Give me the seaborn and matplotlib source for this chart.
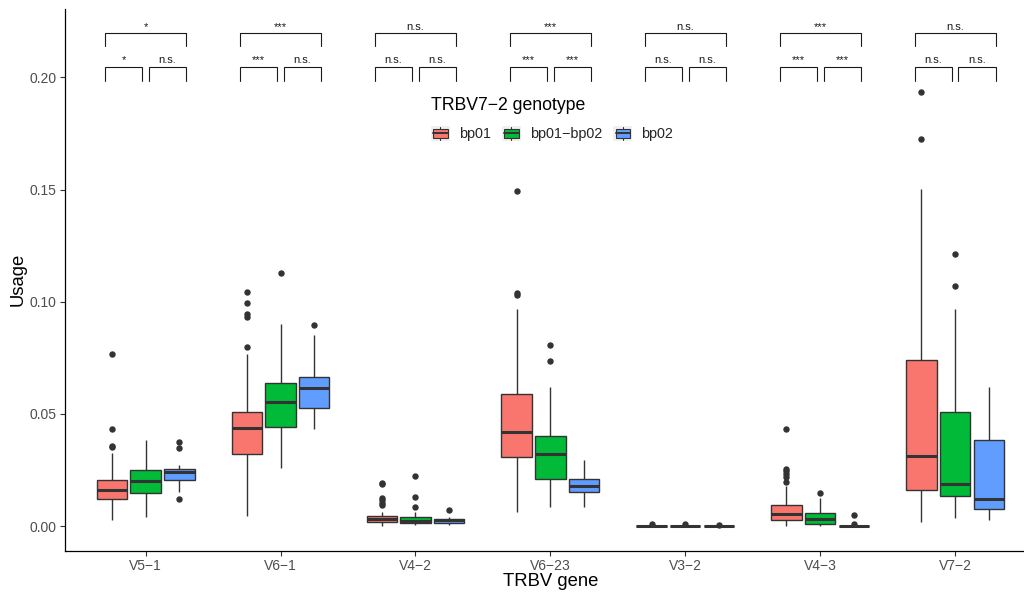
import numpy as np
import pandas as pd
import matplotlib
matplotlib.use("Agg")
import matplotlib.pyplot as plt
import seaborn as sns
from matplotlib.patches import Rectangle, Patch
from matplotlib.lines import Line2D
from matplotlib.legend_handler import HandlerBase
from matplotlib.ticker import FormatStrFormatter

# ---------------- data ----------------
genes = ["V5−1", "V6−1", "V4−2", "V6−23", "V3−2", "V4−3", "V7−2"]
genotypes = ["bp01", "bp01−bp02", "bp02"]
colors = ["#F8766D", "#00BA38", "#619CFF"]

# five-number summaries (whisker low, Q1, median, Q3, whisker high) + outliers
bp01_lo = [0.0027, 0.0045, 0.0000, 0.0061, 0.0000, 0.0000, 0.0016]
bp01_q1 = [0.0119, 0.0321, 0.0016, 0.0309, 0.0000, 0.0027, 0.0162]
bp01_med = [0.0162, 0.0437, 0.0031, 0.0419, 0.0001, 0.0053, 0.0312]
bp01_q3 = [0.0205, 0.0510, 0.0045, 0.0587, 0.0002, 0.0092, 0.0738]
bp01_hi = [0.0324, 0.0765, 0.0064, 0.0966, 0.0004, 0.0178, 0.1502]
bp01_out = [[0.0765, 0.0431, 0.0357, 0.0352],
            [0.0799, 0.0933, 0.0945, 0.0995, 0.1042],
            [0.0186, 0.0193, 0.0126, 0.0116, 0.0104, 0.0094],
            [0.1494, 0.1040, 0.1030],
            [0.0009],
            [0.0431, 0.0253, 0.0244, 0.0232, 0.0220, 0.0197],
            [0.1936, 0.1724]]

het_lo = [0.0042, 0.0257, 0.0003, 0.0086, 0.0000, 0.0000, 0.0037]
het_q1 = [0.0146, 0.0440, 0.0013, 0.0208, 0.0000, 0.0008, 0.0134]
het_med = [0.0201, 0.0553, 0.0024, 0.0319, 0.0001, 0.0031, 0.0187]
het_q3 = [0.0248, 0.0636, 0.0039, 0.0403, 0.0002, 0.0057, 0.0507]
het_hi = [0.0383, 0.0899, 0.0062, 0.0621, 0.0004, 0.0123, 0.0969]
het_out = [[], [0.1129], [0.0223, 0.0128, 0.0085], [0.0805, 0.0737],
           [0.0007], [0.0148], [0.1211, 0.1072]]

bp02_lo = [0.0153, 0.0432, 0.0003, 0.0086, 0.0000, 0.0000, 0.0027]
bp02_q1 = [0.0204, 0.0527, 0.0012, 0.0150, 0.0000, 0.0000, 0.0076]
bp02_med = [0.0241, 0.0615, 0.0025, 0.0180, 0.0001, 0.0001, 0.0122]
bp02_q3 = [0.0253, 0.0665, 0.0033, 0.0211, 0.0002, 0.0002, 0.0383]
bp02_hi = [0.0272, 0.0851, 0.0042, 0.0296, 0.0004, 0.0004, 0.0618]
bp02_out = [[0.0373, 0.0349, 0.0122], [0.0896], [0.0070], [],
            [0.0006], [0.0050, 0.0008], []]

# significance labels: bp01 vs bp02 (top), bp01 vs het (left), het vs bp02 (right)
sig_top = ["*", "***", "n.s.", "***", "n.s.", "***", "n.s."]
sig_left = ["*", "***", "n.s.", "***", "n.s.", "***", "n.s."]
sig_right = ["n.s.", "n.s.", "n.s.", "***", "n.s.", "***", "n.s."]


def expand(lo, q1, med, q3, hi, outs):
    """Deterministic sample whose boxplot stats equal the given summary."""
    low = sorted(o for o in outs if o < med)
    high = sorted(o for o in outs if o > med)
    m = max(len(low), len(high)) + 2
    vals = (low + [lo] + [q1] * (m - len(low)) + [med] * m + [q3] * m
            + [hi] * (m - len(high)) + high)
    return vals


summaries = {
    "bp01": (bp01_lo, bp01_q1, bp01_med, bp01_q3, bp01_hi, bp01_out),
    "bp01−bp02": (het_lo, het_q1, het_med, het_q3, het_hi, het_out),
    "bp02": (bp02_lo, bp02_q1, bp02_med, bp02_q3, bp02_hi, bp02_out),
}
rows = []
for gt in genotypes:
    lo, q1, med, q3, hi, out = summaries[gt]
    for i, g in enumerate(genes):
        for v in expand(lo[i], q1[i], med[i], q3[i], hi[i], out[i]):
            rows.append((g, gt, v))
df = pd.DataFrame(rows, columns=["gene", "genotype", "usage"])

# ---------------- style ----------------
sns.set_theme(style="ticks")
plt.rcParams["font.family"] = ["Liberation Sans", "DejaVu Sans"]

fig = plt.figure(figsize=(10.24, 5.93), dpi=100)
ax = fig.add_axes([64.7 / 1024, 42.3 / 593, (1036 - 64.7) / 1024, (584 - 42.3) / 593])

sns.boxplot(data=df, x="gene", y="usage", hue="genotype", order=genes,
            hue_order=genotypes, palette=colors, saturation=1, width=0.75,
            gap=0.1, linecolor="#333333", linewidth=1.0, fliersize=3.6,
            flierprops=dict(marker="o", markerfacecolor="#333333",
                            markeredgecolor="#333333"),
            medianprops=dict(linewidth=2.2, color="#333333"),
            showcaps=False, legend=False, ax=ax)

ax.set_xlim(-0.6, 6.6)
ax.set_ylim(-0.011, 0.2305)
ax.set_yticks([0.0, 0.05, 0.10, 0.15, 0.20])
ax.yaxis.set_major_formatter(FormatStrFormatter("%.2f"))
for s in ["top", "right"]:
    ax.spines[s].set_visible(False)
for s in ["left", "bottom"]:
    ax.spines[s].set_color("black")
    ax.spines[s].set_linewidth(0.9)
ax.tick_params(axis="both", length=3.5, width=0.8, color="#333333",
               labelcolor="#4D4D4D", labelsize=10, pad=2.5)
ax.set_xlabel("TRBV gene", fontsize=13.3, color="black", labelpad=0)
ax.set_ylabel("Usage", fontsize=13.3, color="black", labelpad=2)

# ---------------- significance brackets ----------------
lw_b = 0.8
bc = "#1a1a1a"
for i in range(len(genes)):
    # lower brackets
    for (xa, xb, lab) in [(i - 0.30, i - 0.025, sig_left[i]),
                          (i + 0.025, i + 0.30, sig_right[i])]:
        ax.plot([xa, xa, xb, xb], [0.1985, 0.2047, 0.2047, 0.1985],
                color=bc, lw=lw_b, solid_joinstyle="miter")
        ax.text((xa + xb) / 2, 0.2047 + 0.0016, lab, ha="center",
                va="baseline", fontsize=8, color=bc)
    # upper bracket
    ax.plot([i - 0.30, i - 0.30, i + 0.30, i + 0.30],
            [0.2139, 0.2196, 0.2196, 0.2139], color=bc, lw=lw_b)
    ax.text(i, 0.2196 + 0.0016, sig_top[i], ha="center", va="baseline",
            fontsize=8, color=bc)


# ---------------- legend ----------------
class BoxKey(HandlerBase):
    def create_artists(self, legend, orig_handle, xdescent, ydescent,
                       width, height, fontsize, trans):
        x0, y0 = -xdescent, -ydescent
        bg = Rectangle((x0, y0), width, height, facecolor="#F0F0F0",
                       edgecolor="none", transform=trans)
        box = Rectangle((x0 + 0.12 * width, y0 + 0.22 * height),
                        0.76 * width, 0.56 * height,
                        facecolor=orig_handle.get_facecolor(),
                        edgecolor="#333333", lw=0.8, transform=trans)
        med = Line2D([x0 + 0.12 * width, x0 + 0.88 * width],
                     [y0 + 0.5 * height] * 2, color="#333333", lw=1.4,
                     transform=trans)
        w1 = Line2D([x0 + 0.5 * width] * 2, [y0 + 0.08 * height, y0 + 0.22 * height],
                    color="#333333", lw=0.8, transform=trans)
        w2 = Line2D([x0 + 0.5 * width] * 2, [y0 + 0.78 * height, y0 + 0.92 * height],
                    color="#333333", lw=0.8, transform=trans)
        return [bg, box, med, w1, w2]


handles = [Patch(facecolor=c) for c in colors]
leg = fig.legend(handles, genotypes, title="TRBV7−2 genotype",
                 loc="upper left", bbox_to_anchor=(431 / 1024, 1 - 97 / 593),
                 bbox_transform=fig.transFigure, ncol=3, frameon=False,
                 fontsize=10.4, title_fontsize=12.7, alignment="left",
                 handler_map={Patch: BoxKey()}, handlelength=1.3,
                 handleheight=1.3, handletextpad=0.65, columnspacing=0.75,
                 labelspacing=0.8, borderpad=0, borderaxespad=0)
leg.get_title().set_color("black")

fig.savefig("out.png", dpi=100)
